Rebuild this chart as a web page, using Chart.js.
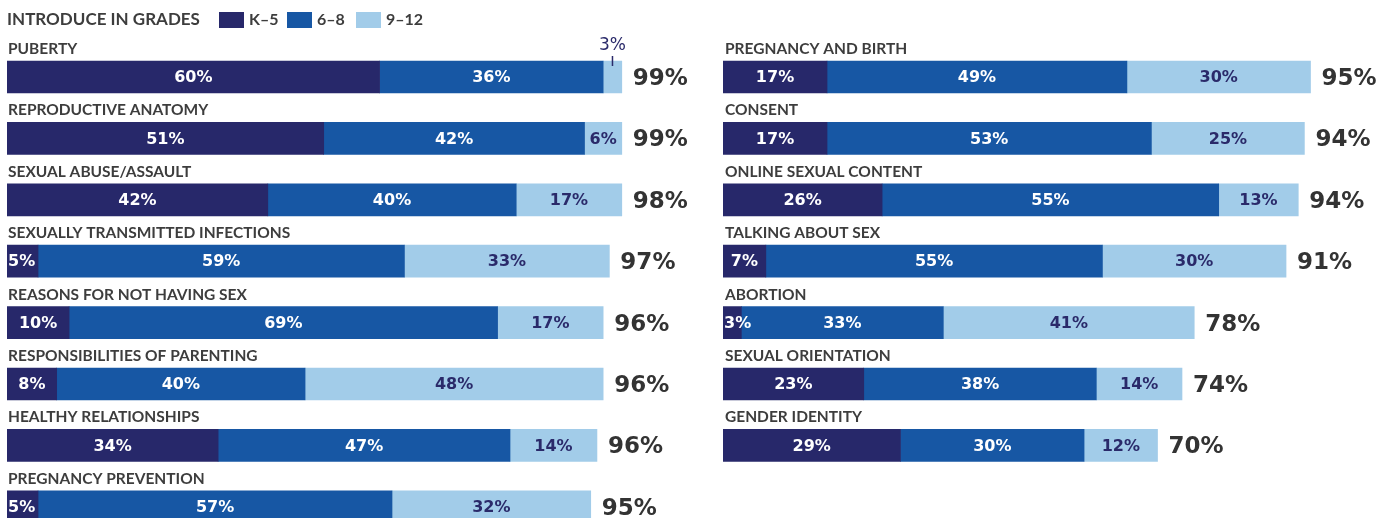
<!DOCTYPE html>
<html>
<head>
<meta charset="utf-8">
<script src="https://cdn.jsdelivr.net/npm/chart.js@4.4.0/dist/chart.umd.min.js"></script>
<style>
  html, body { margin: 0; padding: 0; background: #fff; }
  body { width: 1384px; height: 518px; overflow: hidden; position: relative; }
  .panel { position: absolute; top: 0; }
</style>
</head>
<body>
<div class="panel" style="left:0"><canvas id="leftChart" width="715" height="560"></canvas></div>
<div class="panel" style="left:715px"><canvas id="rightChart" width="669" height="560"></canvas></div>
<script>
// grade groups (legend)
const grades = ['K–5', '6–8', '9–12'];
const gradeColors = ['#27286a', '#1757a4', '#a2cce9'];

// left column
const leftTopics = ['PUBERTY', 'REPRODUCTIVE ANATOMY', 'SEXUAL ABUSE/ASSAULT', 'SEXUALLY TRANSMITTED INFECTIONS',
  'REASONS FOR NOT HAVING SEX', 'RESPONSIBILITIES OF PARENTING', 'HEALTHY RELATIONSHIPS', 'PREGNANCY PREVENTION'];
const leftK5 = [60, 51, 42, 5, 10, 8, 34, 5];
const left68 = [36, 42, 40, 59, 69, 40, 47, 57];
const left912 = [3, 6, 17, 33, 17, 48, 14, 32];
const leftTotal = [99, 99, 98, 97, 96, 96, 96, 95];

// right column
const rightTopics = ['PREGNANCY AND BIRTH', 'CONSENT', 'ONLINE SEXUAL CONTENT', 'TALKING ABOUT SEX',
  'ABORTION', 'SEXUAL ORIENTATION', 'GENDER IDENTITY'];
const rightK5 = [17, 17, 26, 7, 3, 23, 29];
const right68 = [49, 53, 55, 55, 33, 38, 30];
const right912 = [30, 25, 13, 30, 41, 14, 12];
const rightTotal = [95, 94, 94, 91, 78, 74, 70];

const ROW = 61.4;
const TOP = 46.3;

// draws topic names, segment values, totals (and the legend on the left chart)
const barText = {
  id: 'barText',
  afterDatasetsDraw(chart, args, opts) {
    const ctx = chart.ctx;
    const left = chart.chartArea.left;
    ctx.save();
    ctx.textBaseline = 'middle';

    if (opts.legend) {
      ctx.font = 'bold 17px Lato';
      ctx.fillStyle = '#3d3d3d';
      ctx.textAlign = 'left';
      ctx.fillText('INTRODUCE IN GRADES', 7, 20);
      ctx.font = 'bold 16px Lato';
      const sx = [219, 287, 356];
      grades.forEach((g, i) => {
        ctx.fillStyle = gradeColors[i];
        ctx.fillRect(sx[i], 12, 25, 16);
        ctx.fillStyle = '#3d3d3d';
        ctx.fillText(g, sx[i] + 30, 20);
      });
    }

    const first = chart.getDatasetMeta(0).data;
    ctx.font = 'bold 15.5px Lato';
    ctx.fillStyle = '#3d3d3d';
    ctx.textAlign = 'left';
    first.forEach((bar, i) => {
      ctx.fillText(chart.data.labels[i], left + opts.labelShift, bar.y - bar.height / 2 - 12);
    });

    const nSets = chart.data.datasets.length;
    chart.data.datasets.forEach((ds, di) => {
      chart.getDatasetMeta(di).data.forEach((bar, i) => {
        const v = ds.data[i];
        const txt = v + '%';
        const cx = (bar.base + bar.x) / 2;
        const segW = bar.x - bar.base;
        const top = bar.y - bar.height / 2;
        if (di === nSets - 1 && v < 4) {
          // small last segment: callout above the bar
          ctx.font = '17px "DejaVu Sans"';
          ctx.fillStyle = '#2a2a6a';
          ctx.textAlign = 'center';
          ctx.fillText(txt, cx, top - 15);
          ctx.fillRect(cx - 0.75, top - 5, 1.5, 10);
          return;
        }
        ctx.font = 'bold 16px "DejaVu Sans"';
        ctx.fillStyle = di === 2 ? '#2a2a6a' : '#ffffff';
        if (ctx.measureText(txt).width > segW - 4) {
          ctx.textAlign = 'left';
          ctx.fillText(txt, bar.base + 1, bar.y + 1);
        } else {
          ctx.textAlign = 'center';
          ctx.fillText(txt, cx, bar.y + 1);
        }
      });
    });

    const last = chart.getDatasetMeta(nSets - 1).data;
    ctx.font = 'bold 23px "DejaVu Sans"';
    ctx.fillStyle = '#333333';
    ctx.textAlign = 'left';
    last.forEach((bar, i) => {
      ctx.fillText(opts.totals[i] + '%', bar.x + 11, bar.y + 2);
    });
    ctx.restore();
  }
};

function makeChart(id, topics, k5, g68, g912, totals, padLeft, padRight, padBottom, legend) {
  const sets = [k5, g68, g912];
  return new Chart(document.getElementById(id), {
    type: 'bar',
    data: {
      labels: topics,
      datasets: sets.map((d, i) => ({
        label: grades[i],
        data: d,
        backgroundColor: gradeColors[i],
        borderWidth: 0,
        barThickness: 32
      }))
    },
    options: {
      indexAxis: 'y',
      responsive: false,
      animation: false,
      layout: { padding: { left: padLeft, right: padRight, top: TOP, bottom: padBottom } },
      scales: {
        x: { stacked: true, min: 0, max: 100, display: false, grid: { display: false } },
        y: { stacked: true, display: false, grid: { display: false } }
      },
      plugins: {
        legend: { display: false },
        tooltip: { enabled: false },
        barText: { totals: totals, legend: legend, labelShift: legend ? 1 : 2 }
      }
    },
    plugins: [barText]
  });
}

// canvas height 560 so the last left row is cut by the window
makeChart('leftChart', leftTopics, leftK5, left68, left912, leftTotal, 7, 715 - 7 - 621, 560 - TOP - ROW * 8, true);
makeChart('rightChart', rightTopics, rightK5, right68, right912, rightTotal, 8, 669 - 8 - 612, 560 - TOP - ROW * 7, false);
</script>
</body>
</html>
